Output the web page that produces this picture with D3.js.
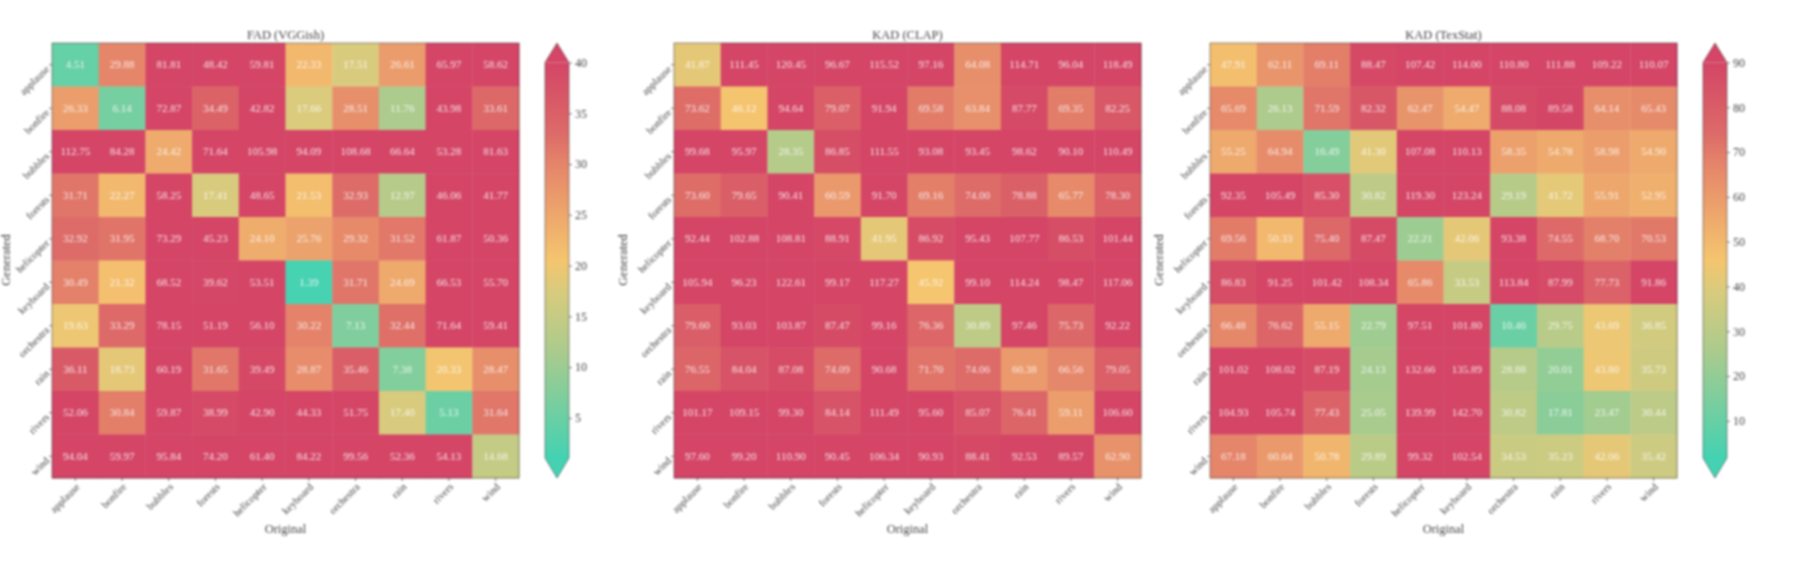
<!DOCTYPE html>
<html>
<head>
<meta charset="utf-8">
<script src="https://cdn.jsdelivr.net/npm/d3@7/dist/d3.min.js"></script>
<style>
html, body { margin: 0; padding: 0; background: #fff; }
svg { display: block; filter: blur(0.8px); }
text { font-family: "Liberation Serif", serif; }
</style>
</head>
<body>
<svg id="chart" width="1800" height="565"></svg>
<script>
var categories = ["applause", "bonfire", "bubbles", "forests", "helicopter", "keyboard", "orchestra", "rain", "rivers", "wind"];

var fadVggish = [
	[4.51, 29.88, 81.81, 48.42, 59.81, 22.33, 17.51, 26.61, 65.97, 58.62],
	[26.33, 6.14, 72.87, 34.49, 42.82, 17.66, 28.51, 11.76, 43.98, 33.61],
	[112.75, 84.28, 24.42, 71.64, 105.98, 94.09, 108.68, 66.64, 53.28, 81.63],
	[31.71, 22.27, 58.25, 17.41, 48.65, 21.53, 32.93, 12.97, 46.06, 41.77],
	[32.92, 31.95, 73.29, 45.23, 24.10, 25.76, 29.32, 31.52, 61.87, 50.36],
	[30.49, 21.32, 68.52, 39.62, 53.51, 1.39, 31.71, 24.69, 66.53, 55.70],
	[19.63, 33.29, 78.15, 51.19, 56.10, 30.22, 7.13, 32.44, 71.64, 59.41],
	[36.11, 18.73, 60.19, 31.65, 39.49, 28.87, 35.46, 7.38, 20.33, 28.47],
	[52.06, 30.84, 59.87, 38.99, 42.90, 44.33, 51.75, 17.40, 5.13, 31.64],
	[94.04, 59.97, 95.84, 74.20, 61.40, 84.22, 99.56, 52.36, 54.13, 14.68]
];
var kadClap = [
	[41.87, 111.45, 120.45, 96.67, 115.52, 97.16, 64.08, 114.71, 96.04, 118.49],
	[73.62, 46.12, 94.64, 79.07, 91.94, 69.58, 63.84, 87.77, 69.35, 82.25],
	[99.68, 95.97, 28.35, 86.85, 111.55, 93.08, 93.45, 98.62, 90.10, 110.49],
	[73.60, 79.65, 90.41, 60.59, 91.70, 69.16, 74.00, 78.88, 65.77, 78.30],
	[92.44, 102.88, 108.81, 88.91, 41.95, 86.92, 95.43, 107.77, 86.53, 101.44],
	[105.94, 96.23, 122.61, 99.17, 117.27, 45.92, 99.10, 114.24, 98.47, 117.06],
	[79.60, 93.03, 103.87, 87.47, 99.16, 76.36, 30.89, 97.46, 75.73, 92.22],
	[76.55, 84.04, 87.08, 74.09, 90.68, 71.70, 74.06, 60.38, 66.56, 79.05],
	[101.17, 109.15, 99.30, 84.14, 111.49, 95.60, 85.07, 76.41, 59.11, 106.60],
	[97.60, 99.20, 110.90, 90.45, 106.34, 90.93, 88.41, 92.53, 89.57, 62.90]
];
var kadTexstat = [
	[47.91, 62.11, 69.11, 88.47, 107.42, 114.00, 110.80, 111.88, 109.22, 110.07],
	[65.69, 26.13, 71.59, 82.32, 62.47, 54.47, 88.08, 89.58, 64.14, 65.43],
	[55.25, 64.94, 16.49, 41.30, 107.08, 110.13, 58.35, 54.78, 58.98, 54.90],
	[92.35, 105.49, 85.30, 30.82, 119.30, 123.24, 29.19, 41.72, 55.91, 52.95],
	[69.56, 50.33, 75.40, 87.47, 22.21, 42.06, 93.38, 74.55, 68.70, 70.53],
	[86.83, 91.25, 101.42, 108.34, 65.86, 33.53, 113.84, 87.99, 77.73, 91.86],
	[66.48, 76.62, 55.15, 22.79, 97.51, 101.80, 10.46, 29.75, 43.69, 36.85],
	[101.02, 108.02, 87.19, 24.13, 132.66, 135.89, 28.88, 20.01, 43.80, 35.73],
	[104.93, 105.74, 77.43, 25.05, 139.99, 142.70, 30.82, 17.81, 23.47, 30.44],
	[67.18, 60.64, 50.78, 29.89, 99.32, 102.54, 34.53, 35.23, 42.06, 35.42]
];

var fadTicks = [5, 10, 15, 20, 25, 30, 35, 40];
var kadTicks = [10, 20, 30, 40, 50, 60, 70, 80, 90];

var colorStops = [0, 0.27, 0.42, 0.5, 0.74, 0.82, 1];
var colorValues = ["#44d2b2", "#abcb8d", "#d8cb7e", "#f5c56f", "#e5866a", "#dd6b68", "#d44566"];

var top_ = 43, bottom = 478, panelW = 467;
var barTop = 62.5, barBottom = 458, barW = 24;

var svg = d3.select("#chart");
var defs = svg.append("defs");

var ramp = d3.scaleLinear().domain(colorStops).range(colorValues).clamp(true);

var grad = defs.append("linearGradient").attr("id", "cbar")
	.attr("x1", 0).attr("y1", 1).attr("x2", 0).attr("y2", 0);
grad.selectAll("stop").data(colorStops).enter().append("stop")
	.attr("offset", function(d) { return d; })
	.attr("stop-color", function(d) { return ramp(d); });

function drawHeatmap(left, title, values, vmin, vmax, genX) {
	var x = d3.scaleBand().domain(categories).range([left, left + panelW]);
	var y = d3.scaleBand().domain(categories).range([top_, bottom]);
	var norm = d3.scaleLinear().domain([vmin, vmax]).range([0, 1]).clamp(true);

	var g = svg.append("g");
	var rows = g.selectAll(".row").data(values).enter().append("g")
		.attr("transform", function(d, i) { return "translate(0," + y(categories[i]) + ")"; });

	var cells = rows.selectAll(".cell").data(function(d) { return d; }).enter().append("g");
	cells.append("rect")
		.attr("x", function(d, i) { return x(categories[i]); })
		.attr("width", x.bandwidth() + 0.4)
		.attr("height", y.bandwidth() + 0.4)
		.attr("fill", function(d) { return ramp(norm(d)); });
	cells.append("text")
		.attr("x", function(d, i) { return x(categories[i]) + x.bandwidth() / 2; })
		.attr("y", y.bandwidth() / 2 + 3.5)
		.attr("text-anchor", "middle")
		.attr("font-size", 11)
		.attr("fill", "#fff")
		.attr("fill-opacity", 0.85)
		.text(function(d) { return d.toFixed(2); });

	var xAxis = g.append("g").attr("transform", "translate(0," + bottom + ")")
		.call(d3.axisBottom(x).tickSize(3).tickPadding(2));
	xAxis.selectAll("text")
		.attr("transform", "rotate(-45)")
		.attr("text-anchor", "end")
		.attr("dx", "-0.3em").attr("dy", "0.5em");

	var yAxis = g.append("g").attr("transform", "translate(" + left + ",0)")
		.call(d3.axisLeft(y).tickSize(3).tickPadding(3));
	yAxis.selectAll("text")
		.attr("transform", "rotate(-45)")
		.attr("text-anchor", "end")
		.attr("dx", "0.1em").attr("dy", "0.2em");

	g.selectAll(".domain").remove();
	g.selectAll(".tick line").attr("stroke", "#444").attr("stroke-width", 0.7);
	g.selectAll(".tick text").attr("font-family", "Liberation Serif").attr("font-size", 10.5).attr("fill", "#444");

	g.append("rect")
		.attr("x", left).attr("y", top_)
		.attr("width", panelW).attr("height", bottom - top_)
		.attr("fill", "none").attr("stroke", "#222").attr("stroke-opacity", 0.6).attr("stroke-width", 0.8);

	g.append("text").attr("x", left + panelW / 2).attr("y", 38.5)
		.attr("text-anchor", "middle").attr("font-size", 12.5).attr("fill", "#444").text(title);
	g.append("text").attr("x", left + panelW / 2).attr("y", 533)
		.attr("text-anchor", "middle").attr("font-size", 12.5).attr("fill", "#444").text("Original");
	g.append("text").attr("transform", "translate(" + genX + ",260) rotate(-90)")
		.attr("text-anchor", "middle").attr("font-size", 12.5).attr("fill", "#444").text("Generated");
}

function drawColorbar(left, vmin, vmax, ticks) {
	var scale = d3.scaleLinear().domain([vmin, vmax]).range([barBottom, barTop]);
	var g = svg.append("g");

	g.append("path")
		.attr("d", d3.line()([[left, barTop], [left + barW / 2, top_], [left + barW, barTop]]) + "Z")
		.attr("fill", ramp(1));
	g.append("path")
		.attr("d", d3.line()([[left, barBottom], [left + barW / 2, bottom], [left + barW, barBottom]]) + "Z")
		.attr("fill", ramp(0));
	g.append("rect")
		.attr("x", left).attr("y", barTop)
		.attr("width", barW).attr("height", barBottom - barTop)
		.attr("fill", "url(#cbar)");

	g.append("path")
		.attr("d", d3.line()([[left, barTop], [left + barW / 2, top_], [left + barW, barTop], [left + barW, barBottom],
			[left + barW / 2, bottom], [left, barBottom]]) + "Z")
		.attr("fill", "none").attr("stroke", "#222").attr("stroke-opacity", 0.6).attr("stroke-width", 0.8);

	var axis = g.append("g").attr("transform", "translate(" + (left + barW) + ",0)")
		.call(d3.axisRight(scale).tickValues(ticks).tickSize(3).tickPadding(3));
	axis.select(".domain").remove();
	axis.selectAll(".tick line").attr("stroke", "#444").attr("stroke-width", 0.7);
	axis.selectAll(".tick text").attr("font-family", "Liberation Serif").attr("font-size", 12).attr("fill", "#444");
}

drawHeatmap(52, "FAD (VGGish)", fadVggish, 1.05, 40, 10);
drawColorbar(545, 1.05, 40, fadTicks);
drawHeatmap(674, "KAD (CLAP)", kadClap, 1.7, 90, 627);
drawHeatmap(1210, "KAD (TexStat)", kadTexstat, 1.7, 90, 1163);
drawColorbar(1703, 1.7, 90, kadTicks);
</script>
</body>
</html>
